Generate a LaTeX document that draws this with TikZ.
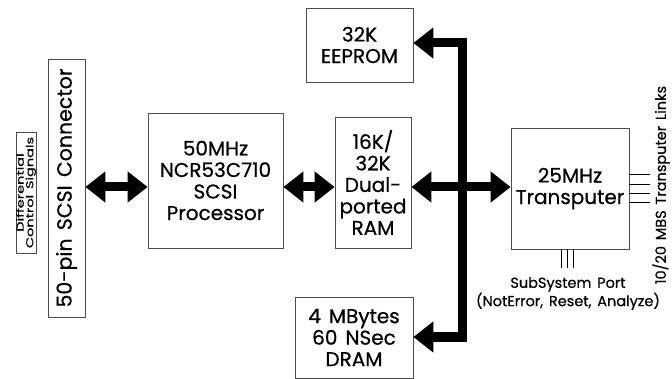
\documentclass[tikz,border=0pt]{standalone}
\usepackage{fontspec}
\setmainfont{Poppins}[WordSpace=1.5, FakeBold=0.6]
\usetikzlibrary{arrows.meta,positioning}

\begin{document}
\begin{tikzpicture}[
  x=1pt, y=-1pt,
  box/.style={rectangle, draw=black!70, line width=0.8pt, inner sep=0pt, align=center, font=\fontsize{20}{21.5}\selectfont},
  bus/.style={line width=9pt, {Triangle[length=20pt,width=30pt]}-{Triangle[length=20pt,width=30pt]}},
  pin/.style={line width=1pt},
  note/.style={inner sep=0pt, align=center, font=\fontsize{14.5}{17}\selectfont}
]
\useasboundingbox (0,0) rectangle (672,379);

%% Connector side
\node[box, rotate=90, minimum width=121pt, minimum height=20pt, font=\fontsize{10}{9.5}\selectfont] (diff) at (26,192.5)
  {\scalebox{1.45}[1]{Differential}\\\scalebox{1.45}[1]{Control Signals}};
\node[box, rotate=90, minimum width=258pt, minimum height=37pt, font=\fontsize{20.5}{21.5}\selectfont] (conn) at (66.5,188) {50-pin SCSI Connector};

%% Processing blocks
\node[box, minimum width=135pt, minimum height=135pt] (proc) at (215.5,180.5) {50MHz\\NCR53C710\\SCSI\\Processor};
\node[box, minimum width=76pt, minimum height=131pt] (ram) at (373,182.5) {16K/\\32K\\Dual-\\ported\\RAM};
\node[box, minimum width=107pt, minimum height=74pt] (eeprom) at (359.5,45) {32K\\EEPROM};
\node[box, minimum width=118pt, minimum height=81pt] (dram) at (354,337.5) {4 MBytes\\60 NSec\\DRAM};
\node[box, minimum width=118pt, minimum height=121pt] (tp) at (570,188.5) {25MHz\\Transputer};

%% Bus
\coordinate (row) at (0,187);
\coordinate (bt) at (462,43);
\coordinate (bb) at (462,337);
\draw[bus] (conn.south |- row) -- (proc.west |- row);
\draw[bus] (proc.east |- row) -- (ram.west |- row);
\draw[bus] (eeprom.east |- bt) -- (bt) -- (bb) -- (dram.east |- bb);
\draw[bus] (ram.east |- row) -- (tp.west |- row);

%% Transputer pins
\foreach \dy in {-13.5,-3.5,5.5,14.5}
  \draw[pin] (tp.east) ++(0,\dy) -- ++(21,0);
\foreach \dx in {-9,-3,3}
  \draw[pin] (tp.south) ++(\dx,0) -- ++(0,19);

%% Labels
\node[note] (port) at (568,293.5) {SubSystem Port\\(NotError, Reset, Analyze)};
\node[note, rotate=90] (links) at (661,185) {10/20 MBS Transputer Links};
\end{tikzpicture}
\end{document}
